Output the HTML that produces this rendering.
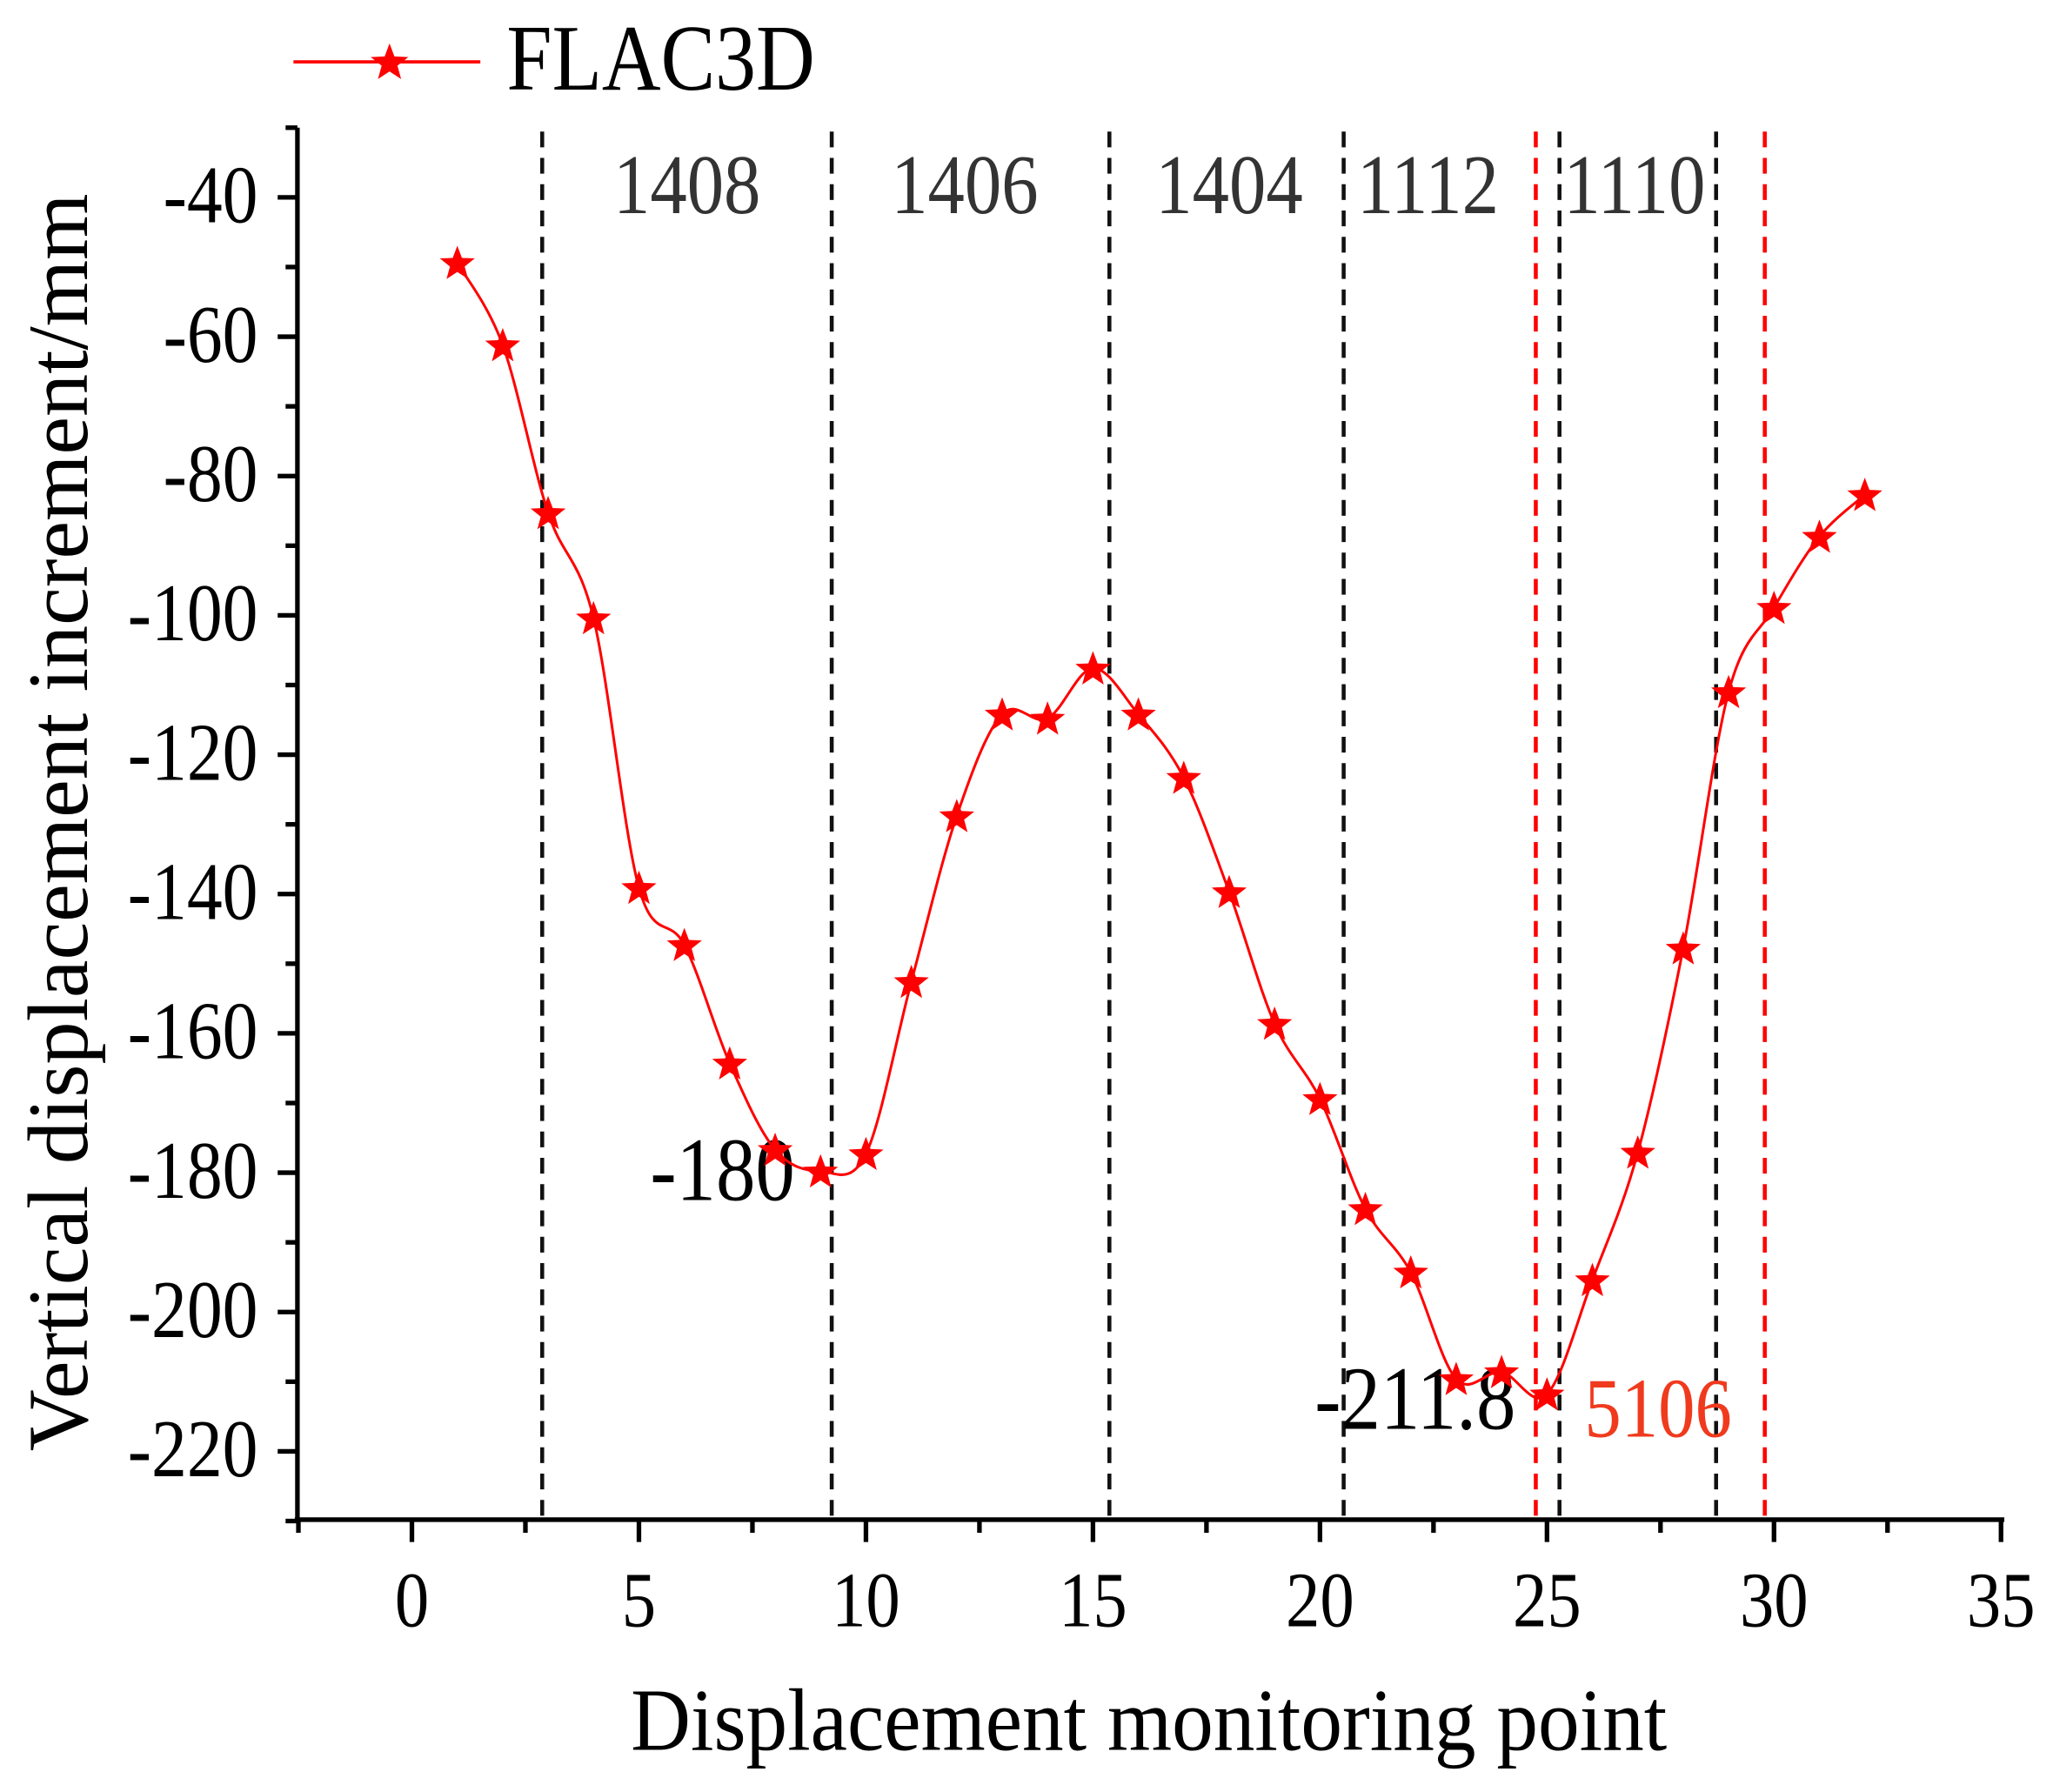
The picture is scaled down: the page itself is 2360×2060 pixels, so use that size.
<!DOCTYPE html>
<html><head><meta charset="utf-8"><style>
html,body{margin:0;padding:0;background:#fff;}
svg{display:block;}
text{font-family:"Liberation Serif",serif;}
</style></head><body>
<svg id="s" width="2360" height="2060" viewBox="0 0 1560 1362" preserveAspectRatio="none" xmlns="http://www.w3.org/2000/svg">
<g id="g"></g>
</svg>
<script>
var g=document.getElementById('g');var h='';
function X(v){return 313+v*34.5;}
function Y(v){return 150+(-40-v)*5.295;}
function T(x,y,size,sx,sy,txt,extra){return '<text transform="translate('+x+','+y+') scale('+sx+','+sy+')" font-size="'+size+'" '+(extra||'')+'>'+txt+'</text>';}
[412,632,843,1021,1185,1304].forEach(function(x){h+='<line x1="'+x+'" y1="100" x2="'+x+'" y2="1155" stroke="#111" stroke-width="3" stroke-dasharray="12,8"/>';});
[1167,1341].forEach(function(x){h+='<line x1="'+x+'" y1="100" x2="'+x+'" y2="1155" stroke="#f00" stroke-width="3" stroke-dasharray="12,8"/>';});
h+='<line x1="226" y1="97" x2="226" y2="1157" stroke="#000" stroke-width="3.5"/>';
h+='<line x1="224" y1="1155" x2="1523" y2="1155" stroke="#000" stroke-width="3.5"/>';
for(var v=-30;v>=-230;v-=10){var y=Y(v);var maj=(v%20==0);h+='<line x1="'+(maj?211:217)+'" y1="'+y+'" x2="226" y2="'+y+'" stroke="#000" stroke-width="3.5"/>';
 if(maj)h+=T(196,y+19,54,1.0,1.15,v,'text-anchor="end"');}
for(var v=-2.5;v<=35;v+=2.5){var x=X(v);var maj=(v%5==0);h+='<line x1="'+x+'" y1="1155" x2="'+x+'" y2="'+(maj?1172:1165)+'" stroke="#000" stroke-width="3.5"/>';
 if(maj)h+=T(x,1236,52,1.0,1.15,v,'text-anchor="middle"');}
[[522,'1408'],[733,'1406'],[934,'1404'],[1085,'1112'],[1242,'1110']].forEach(function(a){h+=T(a[0],162,56,1.0,1.15,a[1],'fill="#333" text-anchor="middle"');});
h+=T(494,912,60,1.0,1.15,'-180');
h+=T(999,1086,60,1.0,1.15,'-211.8');
h+=T(1204,1092,56,1.0,1.15,'5106','fill="#f03a1e"');
h+=T(873,1330,60,1.05,1.12,'Displacement monitoring point','text-anchor="middle"');
h+='<text transform="translate(66,625) rotate(-90) scale(1.12,1.12)" font-size="58" text-anchor="middle">Vertical displacement increment/mm</text>';
var d=[-49.4,-61.2,-85.3,-100.4,-139.1,-147.3,-164.3,-176.7,-179.8,-177.3,-152.6,-128.8,-114.2,-114.8,-107.6,-114.2,-123.3,-139.7,-158.6,-169.4,-185.2,-194.3,-209.6,-208.6,-211.8,-195.4,-177.1,-147.8,-111,-98.9,-88.7,-82.7];
var P=d.map(function(v,i){return [X(i+1),Y(v)];});
var p='M'+P[0][0]+','+P[0][1];
for(var i=0;i<P.length-1;i++){var p0=P[i-1]||P[i],p1=P[i],p2=P[i+1],p3=P[i+2]||P[i+1];
 var c1=[p1[0]+(p2[0]-p0[0])/6,p1[1]+(p2[1]-p0[1])/6],c2=[p2[0]-(p3[0]-p1[0])/6,p2[1]-(p3[1]-p1[1])/6];
 p+=' C'+c1[0]+','+c1[1]+' '+c2[0]+','+c2[1]+' '+p2[0]+','+p2[1];}
h+='<path d="'+p+'" fill="none" stroke="#f00" stroke-width="2"/>';
function star(cx,cy,r){var s='';for(var k=0;k<10;k++){var rr=k%2?r*0.42:r;var a=-Math.PI/2+k*Math.PI/5;s+=(cx+rr*Math.cos(a)).toFixed(1)+','+(cy+rr*Math.sin(a)).toFixed(1)+' ';}
 return '<polygon points="'+s+'" fill="#f00"/>';}
P.forEach(function(q){h+=star(q[0],q[1]+1,14);});
h+='<line x1="223" y1="47" x2="365" y2="47" stroke="#f00" stroke-width="2.5"/>';
h+=star(296,48,15);
h+=T(385,68,62,1.0,1.15,'FLAC3D');
g.innerHTML=h;
</script>
</body></html>
